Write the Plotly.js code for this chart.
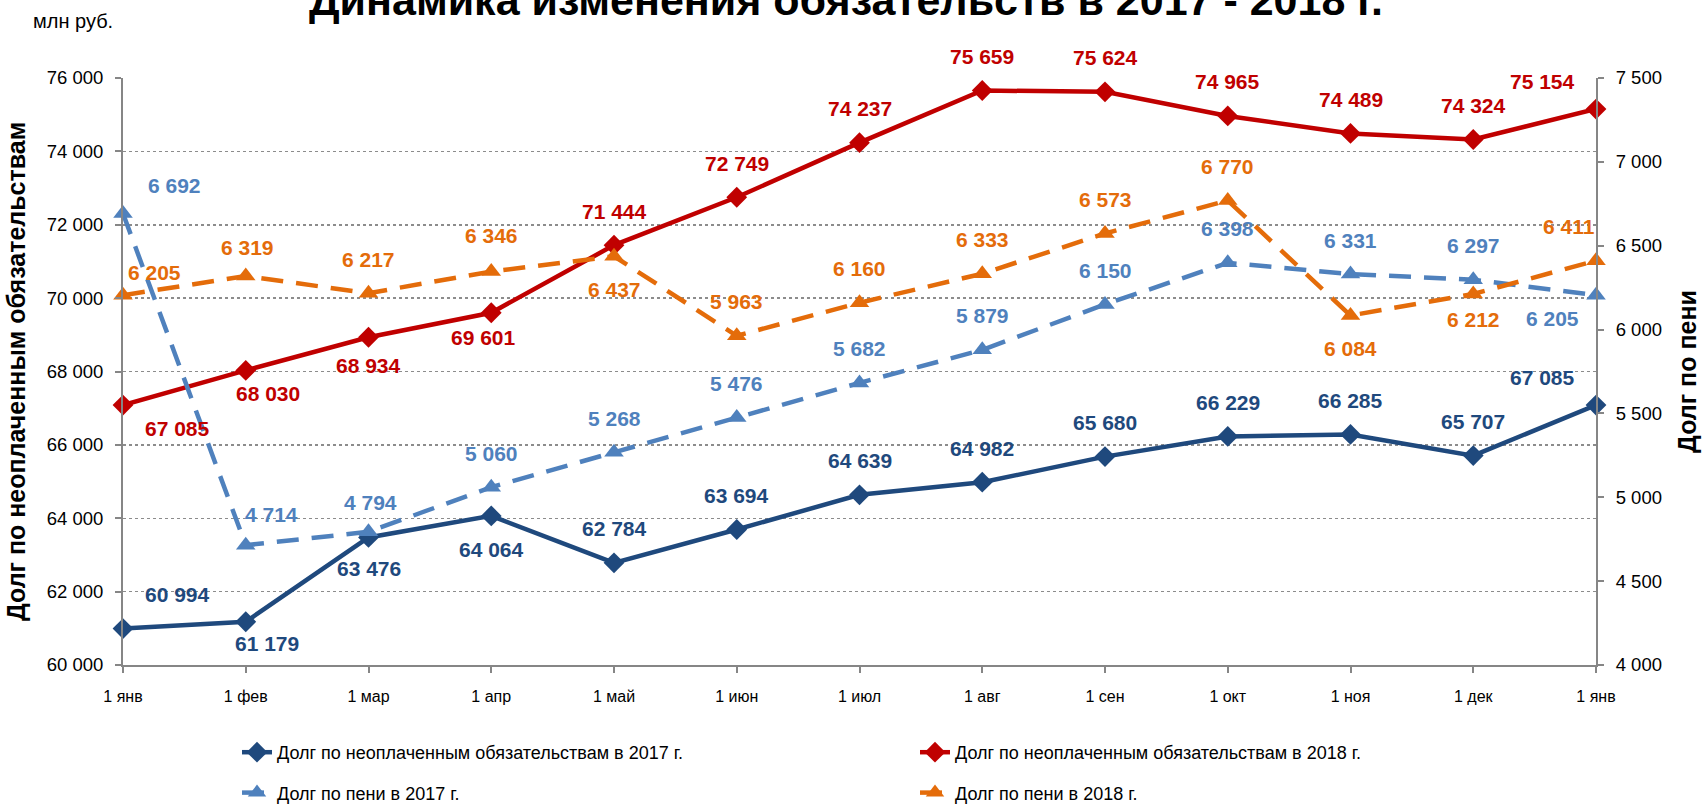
<!DOCTYPE html>
<html><head><meta charset="utf-8">
<script src="https://cdn.plot.ly/plotly-3.0.1.min.js"></script>
<style>html,body{margin:0;padding:0;background:#fff}#chart{width:1702px;height:805px}</style>
</head><body><div id="chart"></div>
<script>
const months = ["1 янв","1 фев","1 мар","1 апр","1 май","1 июн","1 июл","1 авг","1 сен","1 окт","1 ноя","1 дек","1 янв"];
const debt2017 = [60994,61179,63476,64064,62784,63694,64639,64982,65680,66229,66285,65707,67085];
const debt2018 = [67085,68030,68934,69601,71444,72749,74237,75659,75624,74965,74489,74324,75154];
const peni2017 = [6692,4714,4794,5060,5268,5476,5682,5879,6150,6398,6331,6297,6205];
const peni2018 = [6205,6319,6217,6346,6437,5963,6160,6333,6573,6770,6084,6212,6411];
const names = ["Долг по неоплаченным обязательствам в 2017 г.","Долг по неоплаченным обязательствам в 2018 г.","Долг по пени в 2017 г.","Долг по пени в 2018 г."];

// label offsets (px) relative to each point: [dx, dy], dy positive = downward
const offDebt2017 = [[54,-34],[21,22],[0,31],[0,34],[0,-34],[0,-34],[0,-34],[0,-34],[0,-34],[0,-34],[0,-34],[0,-34],[-54,-28]];
const offDebt2018 = [[54,23],[22,23],[0,28],[-8,25],[0,-34],[0,-34],[0,-34],[0,-34],[0,-34],[0,-34],[0,-34],[0,-34],[-54,-28]];
const offPeni2017 = [[51,-28],[26,-31],[2,-29],[0,-34],[0,-34],[0,-34],[0,-34],[0,-34],[0,-34],[0,-34],[0,-34],[0,-34],[-44,23]];
const offPeni2018 = [[31,-23],[2,-29],[0,-34],[0,-36],[0,33],[0,-34],[0,-34],[0,-34],[0,-34],[0,-34],[0,33],[0,25],[-27,-34]];

const cDark = "#1F497D", cRed = "#C00000", cBlue = "#4F81BD", cOrange = "#E46C0A";
const xs = months.map((_, i) => i);
const FONT = "Liberation Sans, Arial, sans-serif";

function fmt(v){ return String(v).replace(/\B(?=(\d{3})+(?!\d))/g, " "); }

const traces = [
  {x: xs, y: debt2017, name: names[0], mode: "lines+markers", yaxis: "y", legend: "legend", legendgroup: "a",
   line: {color: cDark, width: 4.5}, marker: {symbol: "diamond", size: 16, color: cDark}, cliponaxis: false},
  {x: xs, y: debt2018, name: names[1], mode: "lines+markers", yaxis: "y", legend: "legend2", legendgroup: "b",
   line: {color: cRed, width: 4.5}, marker: {symbol: "diamond", size: 16, color: cRed}, cliponaxis: false},
  {x: xs, y: peni2017, name: names[2], mode: "lines+markers", yaxis: "y2", legend: "legend", legendgroup: "c",
   line: {color: cBlue, width: 4.5, dash: "22px,13px"}, marker: {symbol: "triangle-up", size: 17, color: cBlue}, cliponaxis: false},
  {x: xs, y: peni2018, name: names[3], mode: "lines+markers", yaxis: "y2", legend: "legend2", legendgroup: "d",
   line: {color: cOrange, width: 4.5, dash: "22px,13px"}, marker: {symbol: "triangle-up", size: 17, color: cOrange}, cliponaxis: false}
];

const annotations = [];
function addLabels(vals, offs, color, yref){
  vals.forEach((v, i) => {
    annotations.push({x: xs[i], y: v, xref: "x", yref: yref, text: "<b>" + fmt(v) + "</b>", showarrow: false,
      xshift: offs[i][0], yshift: -offs[i][1], font: {family: FONT, size: 21, color: color}});
  });
}
addLabels(debt2017, offDebt2017, cDark, "y");
addLabels(debt2018, offDebt2018, cRed, "y");
addLabels(peni2017, offPeni2017, cBlue, "y2");
addLabels(peni2018, offPeni2018, cOrange, "y2");
annotations.push({xref: "paper", yref: "paper", x: (31-123)/1473, y: 1 + (78-21)/587, xanchor: "left", yanchor: "middle",
  text: "млн руб.", showarrow: false, font: {family: FONT, size: 20, color: "#000"}});

const legendCommon = {orientation: "v", xanchor: "left", yanchor: "top", yref: "container", bgcolor: "rgba(0,0,0,0)",
  font: {family: FONT, size: 18, color: "#000"}, tracegroupgap: 14, traceorder: "grouped"};

const layout = {
  width: 1702, height: 805,
  margin: {l: 123, r: 106, t: 78, b: 140},
  paper_bgcolor: "#fff", plot_bgcolor: "#fff",
  separators: ", ",
  font: {family: FONT, color: "#000"},
  title: {text: "<b>Динамика изменения обязательств в 2017 - 2018 г.</b>", x: 0.497, xref: "container", xanchor: "center",
    y: 1.0, yref: "container", yanchor: "middle", font: {family: FONT, size: 43, color: "#000"}},
  xaxis: {range: [0, 12], tickvals: xs, ticktext: months, showgrid: false, zeroline: false,
    showline: true, linecolor: "#868686", linewidth: 2, ticks: "outside", ticklen: 6, tickcolor: "#868686", tickwidth: 2,
    ticklabelstandoff: 10, tickfont: {family: FONT, size: 16, color: "#000"}},
  yaxis: {range: [60000, 76000], dtick: 2000, tick0: 60000, showgrid: true, gridcolor: "#8c8c8c", griddash: "dot", gridwidth: 1.5,
    zeroline: false, showline: true, linecolor: "#868686", linewidth: 2, ticks: "outside", ticklen: 6, tickcolor: "#868686", tickwidth: 2,
    tickformat: ",d", tickfont: {family: FONT, size: 18.5, color: "#000"}, ticklabelstandoff: 8,
    title: {text: "<b>Долг по неоплаченным обязательствам</b>", font: {family: FONT, size: 25, color: "#000"}, standoff: 14}},
  yaxis2: {range: [4000, 7500], dtick: 500, tick0: 4000, overlaying: "y", side: "right", showgrid: false, zeroline: false,
    showline: true, linecolor: "#868686", linewidth: 2, ticks: "outside", ticklen: 6, tickcolor: "#868686", tickwidth: 2,
    tickformat: ",d", tickfont: {family: FONT, size: 18.5, color: "#000"}, ticklabelstandoff: 8,
    title: {text: "<b>Долг по пени</b>", font: {family: FONT, size: 25, color: "#000"}, standoff: 18}},
  legend: Object.assign({x: (237-123)/1473, y: 1 - 734/805}, legendCommon),
  legend2: Object.assign({x: (915-123)/1473, y: 1 - 734/805}, legendCommon),
  annotations: annotations,
  showlegend: true
};

Plotly.newPlot("chart", traces, layout, {displayModeBar: false, staticPlot: true});
</script></body></html>
